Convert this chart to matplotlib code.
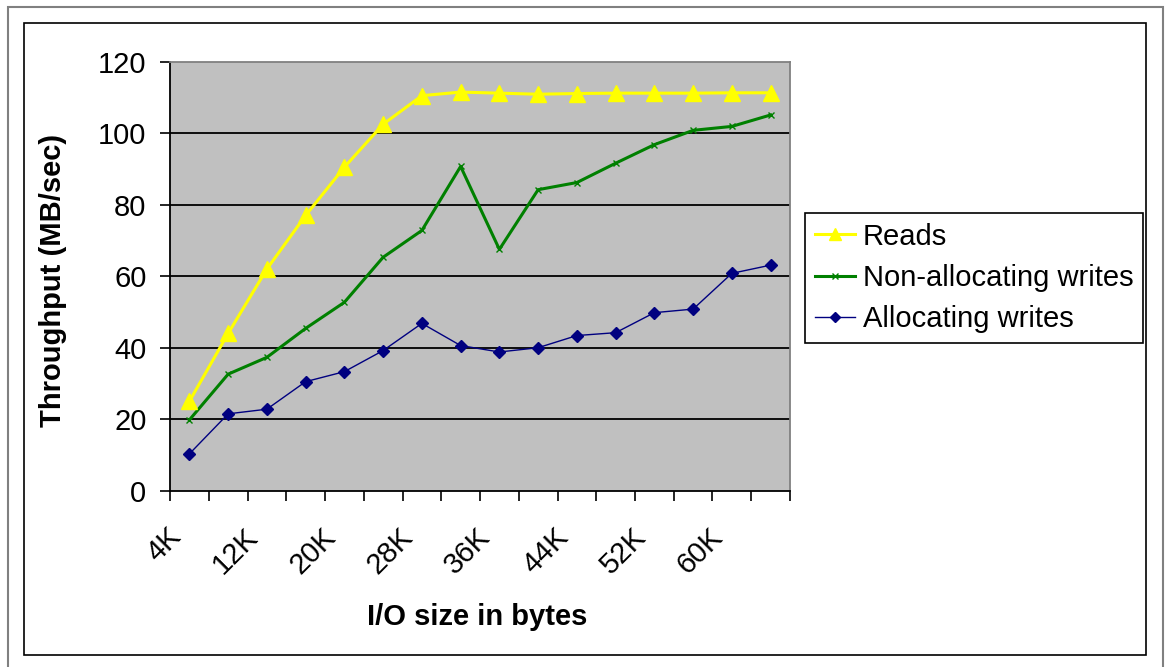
import matplotlib
matplotlib.use("Agg")
import matplotlib.pyplot as plt
from matplotlib.patches import Rectangle
import matplotlib.transforms as mtransforms

plt.rcParams['font.family'] = ['Liberation Sans', 'DejaVu Sans']

categories = ["4K", "8K", "12K", "16K", "20K", "24K", "28K", "32K",
              "36K", "40K", "44K", "48K", "52K", "56K", "60K", "64K"]
reads = [25.0, 44.0, 62.0, 77.0, 90.5, 102.5, 110.5, 111.5,
         111.2, 110.9, 111.1, 111.2, 111.2, 111.2, 111.3, 111.3]
non_alloc = [19.8, 32.6, 37.3, 45.4, 52.7, 65.3, 72.8, 90.7,
             67.5, 84.2, 86.2, 91.6, 96.8, 100.8, 101.9, 105.1]
alloc = [10.3, 21.5, 22.8, 30.5, 33.3, 39.2, 46.8, 40.6,
         38.8, 40.0, 43.4, 44.2, 49.8, 50.8, 60.8, 63.1]
yticks = [0, 20, 40, 60, 80, 100, 120]

W, H = 1165, 667
FS = 21
fig = plt.figure(figsize=(W / 100, H / 100), dpi=100)
fig.patch.set_facecolor("white")

# frames
fig.add_artist(Rectangle((8 / W, -5 / H), (1163 - 8) / W, (H + 5 - 7) / H,
                         transform=fig.transFigure, fill=False,
                         edgecolor="#808080", lw=1.5, clip_on=False))
fig.add_artist(Rectangle((24 / W, 1 - 655 / H), (1146 - 24) / W, (655 - 23) / H,
                         transform=fig.transFigure, fill=False,
                         edgecolor="black", lw=1.2))

left, right, top, bottom = 170, 790, 61.7, 490.7
ax = fig.add_axes([left / W, 1 - bottom / H, (right - left) / W, (bottom - top) / H])
ax.set_facecolor("#C0C0C0")

x = list(range(len(categories)))
ax.plot(x, reads, color="#FFFF00", lw=2.2, marker="^", ms=11, mec="#FFFF00",
        label="Reads", zorder=5)
ax.plot(x, non_alloc, color="#008000", lw=2.2, marker="x", ms=5, mew=1,
        label="Non-allocating writes", zorder=4)
ax.plot(x, alloc, color="#000080", lw=1.0, marker="D", ms=6,
        label="Allocating writes", zorder=3)

ax.set_xlim(-0.5, len(categories) - 0.5)
ax.set_ylim(0, 120)
ax.set_yticks(yticks)
ax.set_yticklabels([str(v) for v in yticks], fontsize=FS)
for v in yticks[1:-1]:
    ax.axhline(v, color="black", lw=1.3, zorder=1)

ax.set_xticks(x[::2])
ax.set_xticklabels(categories[::2], fontsize=FS, rotation=45, ha="right",
                   va="center", rotation_mode="anchor")
ax.set_xticks([i - 0.5 for i in range(len(categories) + 1)], minor=True)
ax.tick_params(axis="x", which="major", length=0, pad=30)
ax.tick_params(axis="x", which="minor", length=7, width=1.2, direction="out")
ax.tick_params(axis="y", length=7, width=1.2, pad=10)
off = mtransforms.ScaledTranslation(-13 / 100, 0, fig.dpi_scale_trans)
for lbl in ax.get_xticklabels():
    lbl.set_transform(lbl.get_transform() + off)

for s in ["left", "bottom"]:
    ax.spines[s].set_color("black")
    ax.spines[s].set_linewidth(1.3)
for s in ["top", "right"]:
    ax.spines[s].set_color("#808080")
    ax.spines[s].set_linewidth(1.3)

ax.set_ylabel("Throughput (MB/sec)", fontsize=FS, fontweight="bold")
ax.yaxis.set_label_coords(67 / W, 1 - 280 / H, transform=fig.transFigure)
fig.text(477 / W, 1 - 617 / H, "I/O size in bytes", fontsize=FS,
         fontweight="bold", ha="center", va="center")

leg = fig.legend(loc="upper left", bbox_to_anchor=(805 / W, 1 - 213 / H),
                 fontsize=FS, frameon=True, fancybox=False, edgecolor="black",
                 borderaxespad=0, handlelength=1.4, handletextpad=0.25,
                 labelspacing=0.45, borderpad=0.33, framealpha=1)
leg.get_frame().set_linewidth(1.2)
for h in leg.legend_handles:
    h.set_markersize(h.get_markersize() * 0.8)

fig.savefig("out.png", dpi=100)
